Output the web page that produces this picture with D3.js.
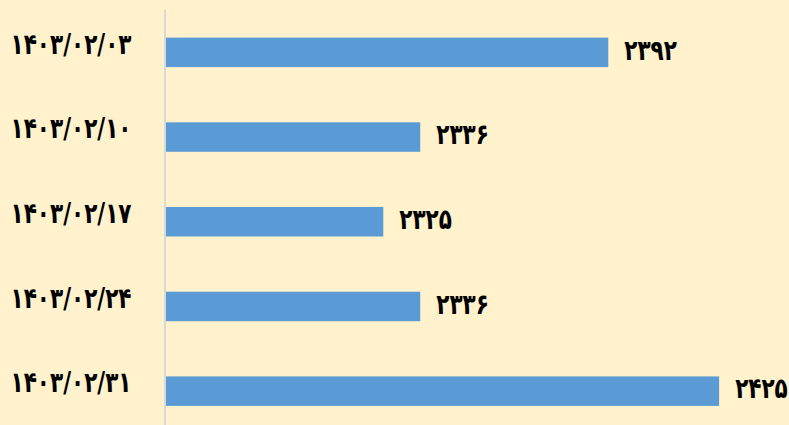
<!DOCTYPE html>
<html>
<head>
<meta charset="utf-8">
<script src="https://cdn.jsdelivr.net/npm/d3@7"></script>
<style>
  html, body { margin: 0; padding: 0; background: #FFF2CC; }
  svg { display: block; }
</style>
</head>
<body>
<div id="chart"></div>
<script>
const categories = ["۱۴۰۳/۰۲/۰۳", "۱۴۰۳/۰۲/۱۰", "۱۴۰۳/۰۲/۱۷", "۱۴۰۳/۰۲/۲۴", "۱۴۰۳/۰۲/۳۱"];
const values = [2392, 2336, 2325, 2336, 2425];
const valueLabels = ["۲۳۹۲", "۲۳۳۶", "۲۳۲۵", "۲۳۳۶", "۲۴۲۵"];

const W = 789, H = 425;
const svg = d3.select("#chart").append("svg")
  .attr("width", W).attr("height", H);

svg.append("rect").attr("width", W).attr("height", H).attr("fill", "#FFF2CC");

const x = d3.scaleLinear().domain([2260, 2440]).range([165, 769.5]);
const y = d3.scaleBand().domain(categories).range([10, 433.5]).paddingInner(0.652).paddingOuter(0.326);

const font = "'DejaVu Sans', sans-serif";

svg.selectAll("rect.bar").data(values).enter().append("rect")
  .attr("class", "bar")
  .attr("x", x(2260))
  .attr("y", (d, i) => y(categories[i]))
  .attr("width", d => x(d) - x(2260))
  .attr("height", y.bandwidth())
  .attr("fill", "#5B9BD5");

// axis line
svg.append("line")
  .attr("x1", 165).attr("x2", 165)
  .attr("y1", 10).attr("y2", H)
  .attr("stroke", "#D9D9D9").attr("stroke-width", 2);

svg.selectAll("text.cat").data(categories).enter().append("text")
  .attr("class", "cat")
  .attr("transform", d => `translate(71,${y(d) + y.bandwidth() / 2 - 9}) scale(0.98,1.3)`)
  .attr("text-anchor", "middle")
  .attr("dominant-baseline", "central")
  .attr("font-family", font)
  .attr("font-weight", "bold")
  .attr("font-size", 22)
  .attr("fill", "#000")
  .text(d => d);

svg.selectAll("text.val").data(values).enter().append("text")
  .attr("class", "val")
  .attr("transform", (d, i) => `translate(${x(d) + 16},${y(categories[i]) + y.bandwidth() / 2 - 3}) scale(0.98,1.3)`)
  .attr("text-anchor", "start")
  .attr("dominant-baseline", "central")
  .attr("font-family", font)
  .attr("font-weight", "bold")
  .attr("font-size", 22)
  .attr("fill", "#000")
  .text((d, i) => valueLabels[i]);
</script>
</body>
</html>
